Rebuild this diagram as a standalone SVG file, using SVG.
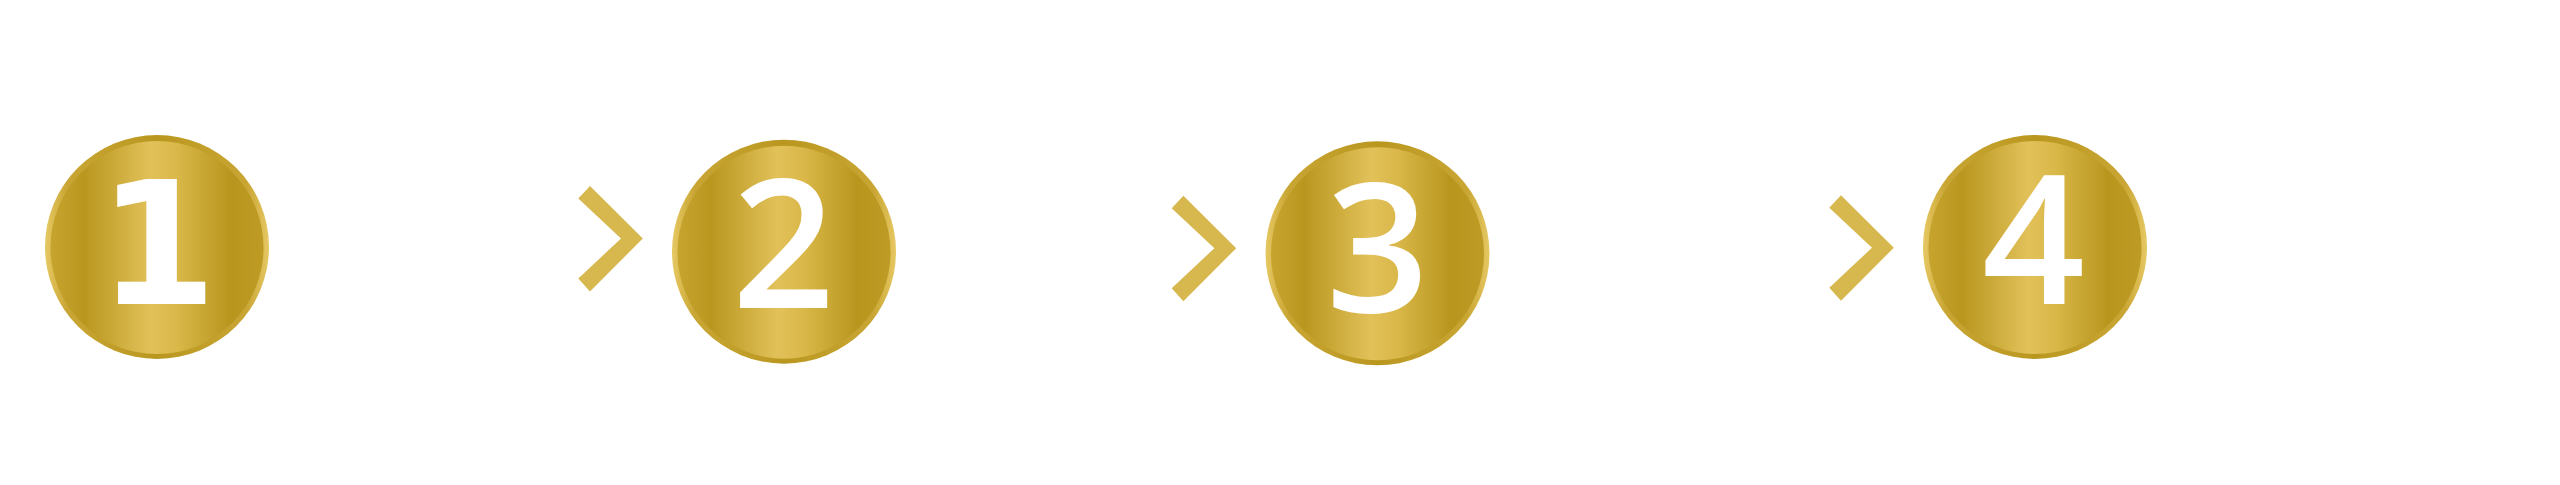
<svg xmlns="http://www.w3.org/2000/svg" xmlns:xlink="http://www.w3.org/1999/xlink" width="2560" height="485" viewBox="0 0 2560 485">
  <defs>
    <linearGradient id="ringGrad" x1="0" y1="0" x2="1" y2="0">
      <stop offset="0" stop-color="#e6c863"/>
      <stop offset="0.1" stop-color="#c9a634"/>
      <stop offset="0.5" stop-color="#b9971f"/>
      <stop offset="0.9" stop-color="#c9a634"/>
      <stop offset="1" stop-color="#e6c863"/>
    </linearGradient>
    <linearGradient id="faceGrad" x1="0" y1="0" x2="1" y2="0">
      <stop offset="0" stop-color="#c6a42e"/>
      <stop offset="0.16" stop-color="#b9971f"/>
      <stop offset="0.47" stop-color="#e2c15a"/>
      <stop offset="0.6" stop-color="#d9b748"/>
      <stop offset="0.84" stop-color="#b8961e"/>
      <stop offset="1" stop-color="#bd9b24"/>
    </linearGradient>
    <path id="chev" d="M11.7,0 L64.5,52.5 L11.7,105.5 L0,92.5 L42.7,52.5 L0,12.5 Z"/>
  </defs>
  <style>
    .ring { fill: url(#ringGrad); }
    .face { fill: url(#faceGrad); }
    .chev { fill: #d7b84f; }
    .num { fill: #ffffff; text-anchor: middle; }
    .num1 { font-family: "DejaVu Sans", "Liberation Sans", sans-serif; font-weight: 700; font-size: 171px; }
    .numg { font-family: "Open Sans", "Noto Sans", sans-serif; font-weight: 600; font-size: 180px; }
  </style>
  <rect width="2560" height="485" fill="#ffffff"/>

  <g id="connectors">
    <use href="#chev" xlink:href="#chev" class="chev" x="578.3" y="186"/>
    <use href="#chev" xlink:href="#chev" class="chev" x="1171.7" y="195.7"/>
    <use href="#chev" xlink:href="#chev" class="chev" x="1829.3" y="195.2"/>
  </g>

  <g id="step1">
    <circle class="ring" cx="157" cy="247" r="112"/>
    <circle class="face" cx="157" cy="247.5" r="106.5"/>
    <text class="num num1" x="157.5" y="304">1</text>
  </g>

  <g id="step2">
    <circle class="ring" cx="784" cy="251.7" r="112"/>
    <circle class="face" cx="784" cy="252.2" r="106.5"/>
    <text class="num numg" x="783.5" y="308">2</text>
  </g>

  <g id="step3">
    <circle class="ring" cx="1377.5" cy="253.3" r="112"/>
    <circle class="face" cx="1377.5" cy="253.8" r="106.5"/>
    <text class="num numg" x="1377.5" y="312">3</text>
  </g>

  <g id="step4">
    <circle class="ring" cx="2035" cy="247" r="112"/>
    <circle class="face" cx="2035" cy="247.5" r="106.5"/>
    <text class="num numg" x="2033.5" y="304">4</text>
  </g>
</svg>
